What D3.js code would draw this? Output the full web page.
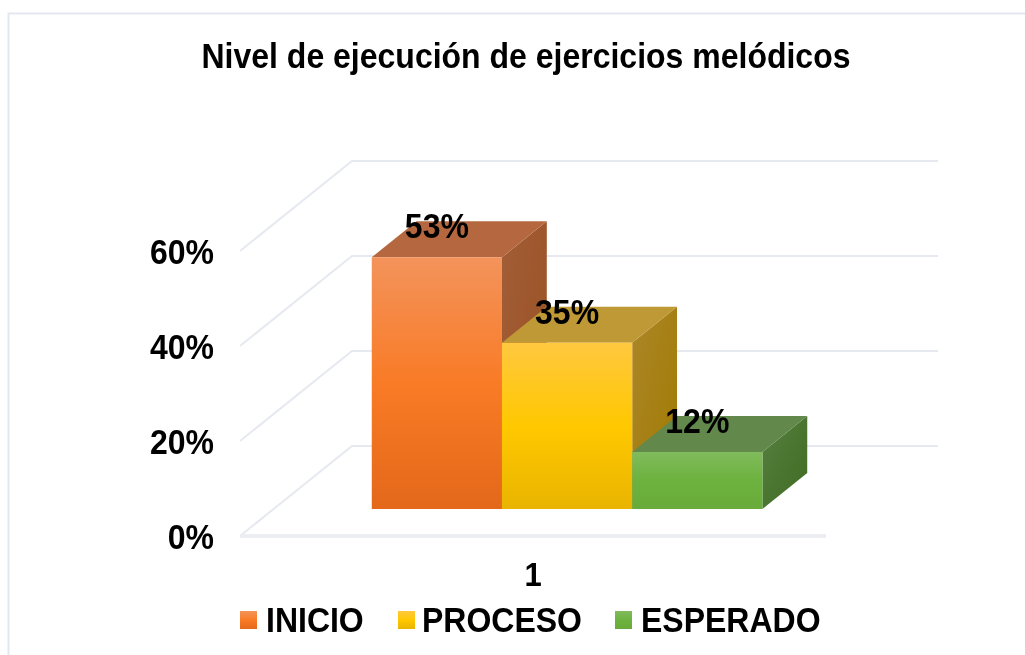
<!DOCTYPE html>
<html>
<head>
<meta charset="utf-8">
<script src="https://cdn.jsdelivr.net/npm/d3@7"></script>
<style>
  html, body { margin: 0; padding: 0; background: #fff; overflow: hidden; }
  svg { filter: blur(0.35px); }
  text { font-family: "Liberation Sans", Arial, sans-serif; font-weight: bold; fill: #000; }
</style>
</head>
<body>
<svg id="chart"></svg>
<script>
// Values
const title = 'Nivel de ejecución de ejercicios melódicos';
const categories = ['1'];
const seriesNames = ['INICIO', 'PROCESO', 'ESPERADO'];
const seriesValues = [53, 35, 12];
const yTicks = [0, 20, 40, 60];

// Colours for each series: gradient top / middle / bottom, top face, side face
const frontColors = [
    ['#f3935b', '#f97b26', '#e4681a'],
    ['#ffc83f', '#ffc800', '#e9b400'],
    ['#80bb5c', '#6db23e', '#69ab3a']
];
const topColors = ['#b5683f', '#bf9935', '#62894b'];
const sideColors = [
    ['#a25e38', '#9a4f20'],
    ['#ab8628', '#a17a00'],
    ['#568040', '#3f6b22']
];

const width = 1025;
const height = 655;
// The reference text is a little taller than the font's own proportions
const stretch = 'scale(1,1.08)';

const svg = d3.select('#chart')
    .attr('width', width)
    .attr('height', height);

// Chart frame, cut off by the picture on the right and bottom
svg.append('path')
    .attr('d', `M8.5,${height} V13.5 H${width}`)
    .attr('fill', 'none')
    .attr('stroke', '#e3e7ee')
    .attr('stroke-width', 2);

svg.append('text')
    .attr('transform', `translate(526,68) ${stretch}`)
    .attr('text-anchor', 'middle')
    .style('font-size', '32px')
    .text(title);

// Scales live on the front plane of the floor
const x0 = d3.scaleBand().domain(categories).range([240, 826]).padding(0.2);
const x1 = d3.scaleBand().domain(seriesNames).range([x0(categories[0]) + 0.5, x0(categories[0]) + x0.bandwidth() + 0.5]);
const y = d3.scaleLinear().domain([0, 60]).range([536, 251]);

// Oblique projection: t = 0 front of the floor, t = 1 back wall
const depthX = 112;
const depthY = -90;
const project = (px, py, t) => [px + depthX * t, py + depthY * t];
const barFront = 0.3;
const barBack = 0.7;
const line = d3.line();

// Gridlines on the side wall and the back wall
const wallColor = '#e6e9ef';
yTicks.forEach(t => {
    svg.append('path')
        .attr('d', line([
            project(x0.range()[0], y(t), 0),
            project(x0.range()[0], y(t), 1),
            project(x0.range()[1], y(t), 1)
        ]))
        .attr('fill', 'none')
        .attr('stroke', wallColor)
        .attr('stroke-width', 2);
});

// Front edge of the floor
svg.append('path')
    .attr('d', line([project(x0.range()[0], y(0), 0), project(x0.range()[1], y(0), 0)]))
    .attr('stroke', '#eceef2')
    .attr('stroke-width', 4);

// Axis labels
const yAxis = d3.axisLeft(y).tickValues(yTicks).tickSize(0).tickPadding(26).tickFormat(d => d + '%');
const yAxisG = svg.append('g').attr('transform', 'translate(240,1)').call(yAxis);
yAxisG.select('.domain').remove();
yAxisG.selectAll('text').style('font-size', '32px').attr('font-family', null).attr('transform', stretch);

const xAxis = d3.axisBottom(x0).tickSize(0).tickPadding(24);
const xAxisG = svg.append('g').attr('transform', 'translate(0,536)').call(xAxis);
xAxisG.select('.domain').remove();
xAxisG.selectAll('text').style('font-size', '31px').attr('font-family', null).attr('transform', stretch);

// Gradients
const defs = svg.append('defs');
seriesNames.forEach((name, i) => {
    const front = defs.append('linearGradient')
        .attr('id', 'front' + i)
        .attr('x1', 0).attr('y1', 0).attr('x2', 0).attr('y2', 1);
    frontColors[i].forEach((c, k) => {
        front.append('stop').attr('offset', k / 2).attr('stop-color', c);
    });
    const side = defs.append('linearGradient')
        .attr('id', 'side' + i)
        .attr('x1', 0).attr('y1', 0).attr('x2', 1).attr('y2', 1);
    sideColors[i].forEach((c, k) => {
        side.append('stop').attr('offset', k).attr('stop-color', c);
    });
});

// Bars, left to right so that each one overlaps the side of the previous one
const bars = svg.selectAll('g.bar')
    .data(seriesValues)
    .enter()
    .append('g')
    .attr('class', 'bar');

bars.append('path')
    .attr('d', (d, i) => {
        const xr = x1(seriesNames[i]) + x1.bandwidth();
        return line([
            project(xr, y(0), barFront),
            project(xr, y(d), barFront),
            project(xr, y(d), barBack),
            project(xr, y(0), barBack)
        ]) + 'Z';
    })
    .attr('fill', (d, i) => `url(#side${i})`);

bars.append('path')
    .attr('d', (d, i) => {
        const xl = x1(seriesNames[i]);
        const xr = xl + x1.bandwidth();
        return line([
            project(xl, y(d), barFront),
            project(xr, y(d), barFront),
            project(xr, y(d), barBack),
            project(xl, y(d), barBack)
        ]) + 'Z';
    })
    .attr('fill', (d, i) => topColors[i]);

bars.append('path')
    .attr('d', (d, i) => {
        const xl = x1(seriesNames[i]);
        const xr = xl + x1.bandwidth();
        return line([
            project(xl, y(0), barFront),
            project(xl, y(d), barFront),
            project(xr, y(d), barFront),
            project(xr, y(0), barFront)
        ]) + 'Z';
    })
    .attr('fill', (d, i) => `url(#front${i})`);

// Data labels sit on the top face of each bar
bars.append('text')
    .attr('transform', (d, i) => {
        const px = project(x1(seriesNames[i]) + x1.bandwidth() / 2, y(d), barFront)[0];
        const py = project(0, y(d), barFront)[1] - 19;
        return `translate(${px},${py}) ${stretch}`;
    })
    .attr('text-anchor', 'middle')
    .style('font-size', '32px')
    .text(d => d + '%');

// Legend
const legendX = [240, 398, 615];
const legendTextX = [26, 24, 26];
const legend = svg.selectAll('g.legend')
    .data(seriesNames)
    .enter()
    .append('g')
    .attr('class', 'legend')
    .attr('transform', (d, i) => `translate(${legendX[i]},611)`);

legend.append('rect')
    .attr('width', 17)
    .attr('height', 18)
    .attr('fill', (d, i) => `url(#front${i})`);

legend.append('text')
    .attr('transform', (d, i) => `translate(${legendTextX[i]},21) ${stretch}`)
    .style('font-size', '32px')
    .text(d => d);
</script>
</body>
</html>
